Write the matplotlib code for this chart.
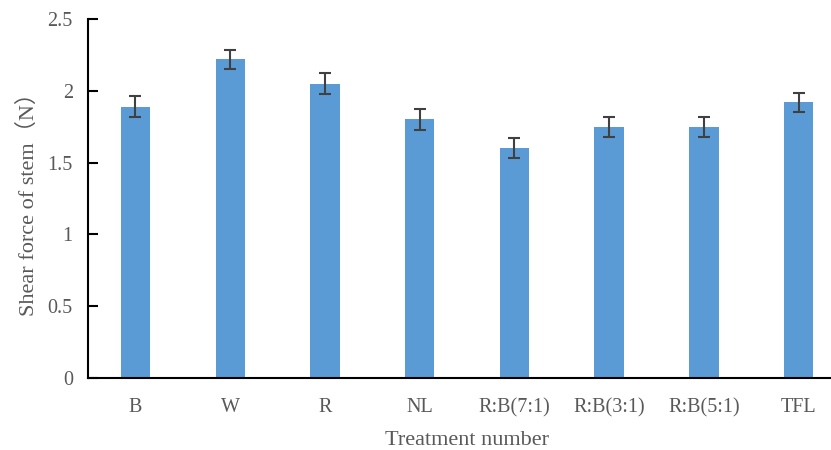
import matplotlib.pyplot as plt

treatments = ['B', 'W', 'R', 'NL', 'R:B(7:1)', 'R:B(3:1)', 'R:B(5:1)', 'TFL']
shear_force = [1.89, 2.22, 2.05, 1.80, 1.60, 1.75, 1.75, 1.92]
errors = [0.07, 0.066, 0.07, 0.07, 0.07, 0.07, 0.07, 0.065]
y_ticks = [0, 0.5, 1, 1.5, 2, 2.5]
y_tick_labels = ['0', '0.5', '1', '1.5', '2', '2.5']

plt.rcParams['font.family'] = ['Liberation Serif', 'Noto Sans CJK SC']
text_color = '#595959'

fig = plt.figure(figsize=(8.31, 4.5), dpi=100)
ax = fig.add_axes([0.106, 0.16, 0.912, 0.798])

x = list(range(len(treatments)))
ax.bar(x, shear_force, width=0.31, color='#5B9BD5',
       yerr=errors, error_kw=dict(ecolor='#404040', elinewidth=1.5, capsize=4, capthick=1.5))

ax.set_xlim(-0.5, 7.5)
ax.set_ylim(0, 2.5)
ax.set_xticks(x)
ax.set_xticklabels(treatments)
ax.set_yticks(y_ticks)
ax.set_yticklabels(y_tick_labels)

ax.tick_params(axis='x', length=0, pad=14.5, labelsize=14.5, labelcolor=text_color)
ax.tick_params(axis='y', direction='in', length=7, width=1.5, pad=11, labelsize=14.5, labelcolor=text_color)

ax.spines['top'].set_visible(False)
ax.spines['right'].set_visible(False)
ax.spines['left'].set_linewidth(1.5)
ax.spines['bottom'].set_linewidth(1.5)

ax.set_xlabel('Treatment number', fontsize=16, color=text_color, labelpad=10)
ax.set_ylabel('Shear force of stem（N）', fontsize=16, color=text_color, labelpad=6)

fig.savefig('out.png', dpi=100)
